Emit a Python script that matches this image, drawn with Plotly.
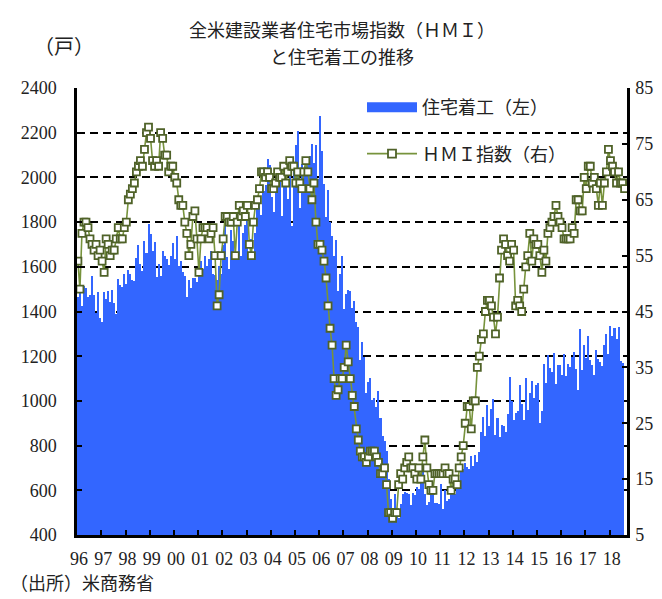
import plotly.graph_objects as go

# ---------------- data ----------------
# 住宅着工（千戸・年率）: Jan-1996 .. Jul-2018
starts = [
    1467, 1491, 1424, 1516, 1504, 1467, 1472, 1557, 1475, 1392, 1489, 1370,  # 1996
    1355, 1486, 1457, 1492, 1442, 1494, 1437, 1390, 1546, 1520, 1510, 1566,  # 1997
    1525, 1584, 1567, 1540, 1536, 1641, 1698, 1614, 1582, 1715, 1660, 1792,  # 1998
    1748, 1670, 1710, 1553, 1611, 1559, 1669, 1648, 1635, 1608, 1648, 1708,  # 1999
    1636, 1737, 1604, 1626, 1575, 1559, 1463, 1541, 1507, 1549, 1551, 1532,  # 2000
    1600, 1625, 1590, 1649, 1605, 1636, 1670, 1567, 1562, 1540, 1602, 1568,  # 2001
    1698, 1829, 1642, 1592, 1764, 1717, 1655, 1633, 1804, 1648, 1753, 1788,  # 2002
    1853, 1629, 1726, 1643, 1751, 1867, 1897, 1833, 1939, 1967, 2083, 2057,  # 2003
    1911, 1846, 1998, 2003, 1981, 1828, 2002, 2024, 1905, 2072, 1782, 2042,  # 2004
    2144, 2207, 1864, 2061, 2025, 2068, 2054, 2095, 2151, 2065, 2147, 1994,  # 2005
    2273, 2119, 1969, 1821, 1942, 1802, 1737, 1650, 1720, 1491, 1570, 1649,  # 2006
    1409, 1480, 1495, 1490, 1415, 1448, 1354, 1330, 1183, 1264, 1197, 1037,  # 2007
    1084, 1103, 1005, 1013, 973, 1046, 923, 844, 820, 777, 652, 560,          # 2008
    490, 582, 505, 478, 540, 585, 594, 586, 585, 534, 588, 581,               # 2009
    614, 604, 636, 687, 583, 536, 546, 599, 594, 543, 545, 539,               # 2010
    630, 517, 600, 554, 561, 608, 623, 585, 650, 610, 711, 694,               # 2011
    723, 704, 695, 753, 708, 757, 728, 770, 863, 930, 841, 983,               # 2012
    888, 962, 1010, 847, 925, 839, 893, 889, 860, 941, 1105, 1001,            # 2013
    913, 948, 957, 1071, 984, 914, 1104, 961, 1036, 1087, 1013, 1070,         # 2014
    1079, 900, 955, 1164, 1080, 1204, 1146, 1131, 1213, 1077, 1162, 1160,     # 2015
    1118, 1208, 1113, 1166, 1150, 1195, 1217, 1142, 1051, 1323, 1137, 1250,   # 2016
    1194, 1290, 1183, 1161, 1115, 1228, 1189, 1172, 1158, 1252, 1299, 1209,   # 2017
    1334, 1290, 1327, 1276, 1329, 1177, 1168,                                 # 2018
]

# 全米建設業者住宅市場指数（HMI）: Jan-1996 .. Aug-2018
hmi = [
    54, 49, 59, 61, 61, 60, 58, 57, 56, 57, 55, 56,  # 1996
    54, 52, 58, 57, 55, 56, 56, 58, 60, 58, 58, 60,  # 1997
    61, 65, 66, 67, 68, 70, 71, 72, 71, 74, 77, 78,  # 1998
    76, 72, 71, 72, 71, 77, 76, 73, 73, 70, 71, 71,  # 1999
    69, 68, 65, 64, 64, 61, 59, 55, 57, 62, 63, 58,  # 2000
    52, 58, 60, 60, 60, 58, 59, 60, 55, 46, 48, 55,  # 2001
    58, 62, 62, 61, 61, 62, 55, 61, 64, 62, 63, 62,  # 2002
    64, 57, 55, 61, 64, 65, 67, 70, 70, 69, 70, 69,  # 2003
    67, 67, 68, 70, 69, 69, 71, 68, 70, 72, 71, 71,  # 2004
    68, 70, 68, 67, 70, 72, 70, 67, 65, 68, 61, 57,  # 2005
    57, 56, 54, 51, 46, 42, 39, 33, 30, 31, 33, 33,  # 2006
    35, 39, 36, 33, 30, 28, 24, 22, 20, 19, 19, 18,  # 2007
    19, 20, 20, 20, 19, 18, 16, 16, 17, 14, 9, 9,    # 2008
    8, 9, 9, 14, 16, 15, 17, 18, 19, 17, 17, 16,     # 2009
    15, 17, 15, 19, 22, 17, 14, 13, 13, 16, 16, 16,  # 2010
    16, 16, 17, 16, 16, 13, 15, 15, 14, 17, 19, 21,  # 2011
    25, 28, 28, 24, 29, 29, 35, 37, 40, 41, 45, 47,  # 2012
    47, 46, 44, 41, 44, 51, 56, 58, 57, 55, 54, 57,  # 2013
    56, 46, 47, 46, 45, 49, 53, 55, 59, 54, 58, 57,  # 2014
    57, 55, 52, 56, 54, 59, 60, 61, 62, 64, 62, 61,  # 2015
    60, 58, 58, 58, 58, 60, 59, 65, 65, 63, 63, 69,  # 2016
    67, 71, 71, 68, 69, 67, 64, 68, 64, 68, 70, 74,  # 2017
    72, 71, 70, 68, 70, 68, 68, 67,                  # 2018
]

year_labels = ["96", "97", "98", "99", "00", "01", "02", "03", "04", "05", "06",
               "07", "08", "09", "10", "11", "12", "13", "14", "15", "16", "17", "18"]

left_ticks = [400, 600, 800, 1000, 1200, 1400, 1600, 1800, 2000, 2200, 2400]
right_ticks = [5, 15, 25, 35, 45, 55, 65, 75, 85]

name_starts = "住宅着工（左）"
name_hmi = "ＨＭＩ指数（右）"
title_1 = "全米建設業者住宅市場指数（ＨＭＩ）"
title_2 = "と住宅着工の推移"
unit_label = "（戸）"
source_label = "（出所）米商務省"

# ---------------- figure ----------------
BLUE = "#3366FF"
LINE = "#77933C"
MK_EDGE = "#4F6228"
FONT = "'Liberation Serif', 'Noto Sans CJK JP', serif"
TXT = "#222222"

# the page body has an 8px margin; size the figure so it fits the window
OFF = 8
W, H = 662 - OFF, 599 - OFF
L, R, T, B = 77 - OFF, 35, 88 - OFF, 64
PW, PH = W - L - R, H - T - B


def px_x(px):
    """page pixel x -> paper coordinate"""
    return (px - OFF - L) / PW


def px_y(py):
    """page pixel y -> paper coordinate"""
    return (OFF + H - B - py) / PH


x_starts = list(range(len(starts)))
x_hmi = list(range(len(hmi)))

fig = go.Figure()

fig.add_trace(go.Bar(
    x=x_starts, y=starts, yaxis="y",
    marker=dict(color=BLUE, line=dict(width=0)),
    showlegend=False, hoverinfo="skip",
))

fig.add_trace(go.Scatter(
    x=x_hmi, y=hmi, yaxis="y2", mode="lines+markers",
    line=dict(color=LINE, width=1.6),
    marker=dict(symbol="square", size=7, color="white",
                line=dict(color=MK_EDGE, width=1.8)),
    showlegend=False, hoverinfo="skip",
))

# legend entries
fig.add_trace(go.Scatter(
    x=[None], y=[None], yaxis="y", mode="lines", name=name_starts,
    line=dict(color=BLUE, width=10), legendgroup="a",
))
fig.add_trace(go.Scatter(
    x=[None], y=[None], yaxis="y2", mode="lines+markers", name=name_hmi,
    line=dict(color=LINE, width=1.6),
    marker=dict(symbol="square", size=8, color="white",
                line=dict(color=MK_EDGE, width=1.8)),
    legendgroup="b",
))

n_years = len(year_labels)
fig.update_layout(
    width=W, height=H,
    margin=dict(l=L, r=R, t=T, b=B, pad=0, autoexpand=False),
    paper_bgcolor="white", plot_bgcolor="white",
    font=dict(family=FONT, size=18, color=TXT),
    bargap=0,
    showlegend=True,
    legend=dict(
        x=px_x(362), y=px_y(89), xanchor="left", yanchor="top",
        bgcolor="rgba(0,0,0,0)", borderwidth=0,
        font=dict(family=FONT, size=18, color=TXT),
        tracegroupgap=20, itemwidth=50,
    ),
    xaxis=dict(
        range=[-0.45, 272.2],
        tickmode="array",
        tickvals=[12 * k - 0.4 for k in range(n_years)],
        ticktext=year_labels,
        ticks="inside", ticklen=5, tickwidth=2, tickcolor="black",
        ticklabelshift=2, ticklabelstandoff=6,
        showline=True, linewidth=2.5, linecolor="black",
        showgrid=False, zeroline=False,
        tickfont=dict(family=FONT, size=18, color=TXT),
    ),
    yaxis=dict(
        range=[400, 2400],
        tickmode="array", tickvals=left_ticks,
        ticks="inside", ticklen=5, tickwidth=2, tickcolor="black",
        ticklabelstandoff=14,
        showline=True, linewidth=2.5, linecolor="black",
        showgrid=True, gridcolor="black", gridwidth=2, griddash="8px,5px",
        zeroline=False,
        tickfont=dict(family=FONT, size=18, color=TXT),
    ),
    yaxis2=dict(
        range=[5, 85], overlaying="y", side="right",
        tickmode="array", tickvals=right_ticks,
        ticks="inside", ticklen=5, tickwidth=2, tickcolor="black",
        ticklabelstandoff=2,
        showline=True, linewidth=2.5, linecolor="black",
        showgrid=False, zeroline=False,
        tickfont=dict(family=FONT, size=18, color=TXT),
    ),
    annotations=[
        dict(text=title_1, x=px_x(342), y=px_y(31), xref="paper", yref="paper",
             showarrow=False, xanchor="center", yanchor="middle",
             font=dict(family=FONT, size=18, color=TXT)),
        dict(text=title_2, x=px_x(342), y=px_y(58), xref="paper", yref="paper",
             showarrow=False, xanchor="center", yanchor="middle",
             font=dict(family=FONT, size=18, color=TXT)),
        dict(text=unit_label, x=px_x(64), y=px_y(47), xref="paper", yref="paper",
             showarrow=False, xanchor="center", yanchor="middle",
             font=dict(family=FONT, size=20, color=TXT)),
        dict(text=source_label, x=px_x(OFF), y=px_y(584), xref="paper", yref="paper",
             showarrow=False, xanchor="left", yanchor="middle",
             font=dict(family=FONT, size=18, color=TXT)),
    ],
)

fig.write_html("out.html")
